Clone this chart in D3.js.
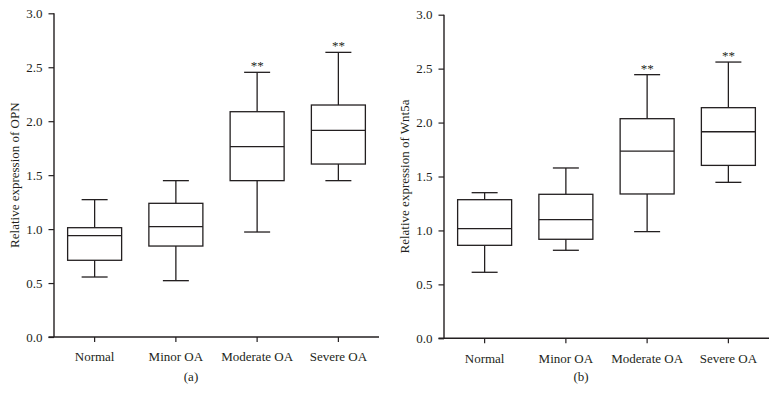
<!DOCTYPE html>
<html>
<head>
<meta charset="utf-8">
<script src="https://cdn.jsdelivr.net/npm/d3@7"></script>
<style>
  body { margin: 0; background: #fff; }
  text { font-family: "Liberation Serif", "Times New Roman", serif; fill: #231f20; }
</style>
</head>
<body>
<div id="chart"></div>
<script>
// categories and tick values
var categories = ["Normal", "Minor OA", "Moderate OA", "Severe OA"]
var yTicks = [0, 0.5, 1.0, 1.5, 2.0, 2.5, 3.0]

// five-number summaries per category: [min, q1, median, q3, max]
var opnBoxes = [
  [0.556, 0.711, 0.939, 1.013, 1.273],
  [0.522, 0.843, 1.023, 1.239, 1.449],
  [0.973, 1.449, 1.764, 2.088, 2.453],
  [1.449, 1.603, 1.915, 2.150, 2.638]
]
var wnt5aBoxes = [
  [0.612, 0.862, 1.016, 1.285, 1.350],
  [0.816, 0.918, 1.100, 1.335, 1.579],
  [0.989, 1.338, 1.736, 2.036, 2.444],
  [1.446, 1.603, 1.915, 2.138, 2.561]
]
var signif = ["", "", "**", "**"]

var width = 777, height = 405
var ink = "#231f20"

var svg = d3.select("#chart").append("svg")
  .attr("width", width)
  .attr("height", height)

function drawPanel(boxes, yLabel, tag, left, right, top, bottom) {
  var g = svg.append("g")

  var x = d3.scaleBand().domain(categories).range([left, right]).padding(0)
  var y = d3.scaleLinear().domain([0, 3]).range([bottom, top])

  // y axis
  var yAxis = g.append("g")
    .attr("transform", "translate(" + left + ",0)")
    .call(d3.axisLeft(y).tickValues(yTicks).tickFormat(d3.format(".1f")).tickSize(5.5).tickPadding(6))
  // x axis
  var xAxis = g.append("g")
    .attr("transform", "translate(0," + bottom + ")")
    .call(d3.axisBottom(x).tickSize(5).tickPadding(10))

  g.selectAll(".domain").attr("stroke", ink).attr("stroke-width", 1.4)
  g.selectAll(".tick line").attr("stroke", ink).attr("stroke-width", 1.2)
  g.selectAll(".tick text").attr("font-size", 13).attr("fill", ink)
    .style("font-family", "'Liberation Serif', serif")
  yAxis.select(".domain").attr("d", "M0," + bottom + "V" + top)
  xAxis.select(".domain").attr("d", "M" + (left - 5.5) + ",0H" + right)

  var boxW = 54, capW = 26

  var box = g.selectAll(".box")
    .data(boxes)
    .enter()
    .append("g")
    .attr("class", "box")
    .attr("transform", function(d, i) { return "translate(" + (x(categories[i]) + x.bandwidth() / 2) + ",0)" })

  // whiskers
  box.append("line")
    .attr("x1", 0).attr("x2", 0)
    .attr("y1", function(d) { return y(d[0]) })
    .attr("y2", function(d) { return y(d[1]) })
  box.append("line")
    .attr("x1", 0).attr("x2", 0)
    .attr("y1", function(d) { return y(d[3]) })
    .attr("y2", function(d) { return y(d[4]) })
  // caps
  box.append("line")
    .attr("x1", -capW / 2).attr("x2", capW / 2)
    .attr("y1", function(d) { return y(d[0]) })
    .attr("y2", function(d) { return y(d[0]) })
  box.append("line")
    .attr("x1", -capW / 2).attr("x2", capW / 2)
    .attr("y1", function(d) { return y(d[4]) })
    .attr("y2", function(d) { return y(d[4]) })
  // box
  box.append("rect")
    .attr("x", -boxW / 2)
    .attr("width", boxW)
    .attr("y", function(d) { return y(d[3]) })
    .attr("height", function(d) { return y(d[1]) - y(d[3]) })
    .attr("fill", "none")
  // median
  box.append("line")
    .attr("x1", -boxW / 2).attr("x2", boxW / 2)
    .attr("y1", function(d) { return y(d[2]) })
    .attr("y2", function(d) { return y(d[2]) })

  box.selectAll("line, rect")
    .attr("stroke", ink)
    .attr("stroke-width", 1.3)

  // significance stars
  box.append("text")
    .attr("y", function(d) { return y(d[4]) - 2 })
    .attr("text-anchor", "middle")
    .attr("font-size", 13)
    .text(function(d, i) { return signif[i] })

  // y axis label
  g.append("text")
    .attr("transform", "translate(" + (left - 35) + "," + ((top + bottom) / 2) + ") rotate(-90)")
    .attr("text-anchor", "middle")
    .attr("font-size", 13)
    .text(yLabel)

  // panel tag
  g.append("text")
    .attr("x", left + 137)
    .attr("y", 381)
    .attr("text-anchor", "middle")
    .attr("font-size", 13)
    .text(tag)
}

drawPanel(opnBoxes, "Relative expression of OPN", "(a)", 54, 379, 13.3, 337)
drawPanel(wnt5aBoxes, "Relative expression of Wnt5a", "(b)", 444, 769, 14.7, 338.3)
</script>
</body>
</html>
